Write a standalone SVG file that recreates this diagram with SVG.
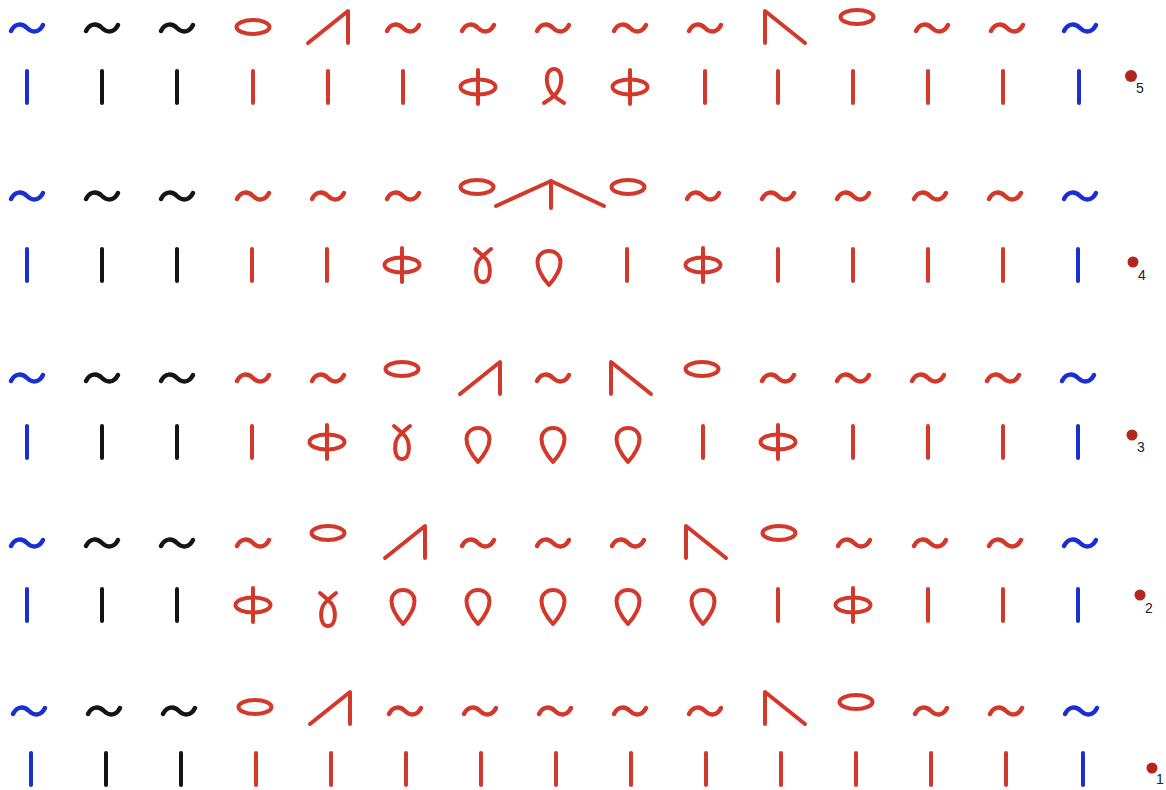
<svg xmlns="http://www.w3.org/2000/svg" width="1166" height="790" viewBox="0 0 1166 790">
<style>
.r{stroke:#d3392b}.k{stroke:#141414}.b{stroke:#1a2fd2}
.s{fill:none;stroke-linecap:round;stroke-linejoin:round}
.t{stroke-width:4.5}.l{stroke-width:4}.o{stroke-width:4}
.dot{fill:#b3261e}
.lbl{font-family:"Liberation Sans",Arial,sans-serif;font-size:14px;fill:#222}
</style>
<defs>
<path id="tl" class="s t" d="M-16,3 C-12,-5 -5,-5 0,0 C5,5 12,5 16,-3"/>
<line id="br" class="s l" x1="0" y1="-16" x2="0" y2="16"/>
<ellipse id="ov" class="s o" cx="0" cy="0" rx="16.5" ry="7"/>
<polyline id="kl" class="s l" points="-20,16 20,-16 20,16"/>
<polyline id="kr" class="s l" points="-20,16 -20,-16 20,16"/>
<g id="ph" class="s l"><ellipse cx="0" cy="0" rx="17.5" ry="7.5"/><line x1="0" y1="-17" x2="0" y2="17"/></g>
<path id="lp" class="s l" d="M-10,17 C-5,14 6,8 7,-4 C8,-13 4,-17 0,-17 C-4,-17 -8,-13 -7,-4 C-6,8 5,14 10,17"/>
<path id="tw" class="s l" d="M-8,-17 Q-3,-13 1,-9 C9,-3 9,16 0,16 C-9,16 -9,-3 -1,-9 Q3,-13 8,-17"/>
<path id="dr" class="s l" d="M0,17 C-8,8 -11.5,0 -11.5,-6 C-11.5,-13 -6,-17 0,-17 C6,-17 11.5,-13 11.5,-6 C11.5,0 8,8 0,17 Z"/>
</defs>
<rect width="1166" height="790" fill="#fff"/>

<g id="row5">
<use id="r5t1" class="b" href="#tl" x="27" y="28"/>
<use id="r5t2" class="k" href="#tl" x="102" y="28"/>
<use id="r5t3" class="k" href="#tl" x="177" y="28"/>
<use id="r5t4" class="r" href="#ov" x="253" y="27"/>
<use id="r5t5" class="r" href="#kl" x="328" y="27"/>
<use id="r5t6" class="r" href="#tl" x="403" y="28"/>
<use id="r5t7" class="r" href="#tl" x="478" y="28"/>
<use id="r5t8" class="r" href="#tl" x="553" y="28"/>
<use id="r5t9" class="r" href="#tl" x="630" y="28"/>
<use id="r5t10" class="r" href="#tl" x="705" y="28"/>
<use id="r5t11" class="r" href="#kr" x="785" y="27"/>
<use id="r5t12" class="r" href="#ov" x="857" y="17"/>
<use id="r5t13" class="r" href="#tl" x="932" y="28"/>
<use id="r5t14" class="r" href="#tl" x="1007" y="28"/>
<use id="r5t15" class="b" href="#tl" x="1080" y="28"/>
<use id="r5b1" class="b" href="#br" x="27" y="87"/>
<use id="r5b2" class="k" href="#br" x="102" y="87"/>
<use id="r5b3" class="k" href="#br" x="177" y="87"/>
<use id="r5b4" class="r" href="#br" x="253" y="87"/>
<use id="r5b5" class="r" href="#br" x="328" y="87"/>
<use id="r5b6" class="r" href="#br" x="403" y="87"/>
<use id="r5b7" class="r" href="#ph" x="478" y="87"/>
<use id="r5b8" class="r" href="#lp" x="554" y="86"/>
<use id="r5b9" class="r" href="#ph" x="630" y="87"/>
<use id="r5b10" class="r" href="#br" x="705" y="87"/>
<use id="r5b11" class="r" href="#br" x="778" y="87"/>
<use id="r5b12" class="r" href="#br" x="853" y="87"/>
<use id="r5b13" class="r" href="#br" x="928" y="87"/>
<use id="r5b14" class="r" href="#br" x="1003" y="87"/>
<use id="r5b15" class="b" href="#br" x="1079" y="87"/>
<circle id="r5dot" class="dot" cx="1131" cy="76" r="6"/>
<text class="lbl" x="1136" y="93">5</text>
</g>

<g id="row4">
<use id="r4t1" class="b" href="#tl" x="27" y="196"/>
<use id="r4t2" class="k" href="#tl" x="102" y="196"/>
<use id="r4t3" class="k" href="#tl" x="177" y="196"/>
<use id="r4t4" class="r" href="#tl" x="253" y="196"/>
<use id="r4t5" class="r" href="#tl" x="328" y="196"/>
<use id="r4t6" class="r" href="#tl" x="403" y="196"/>
<use id="r4t7" class="r" href="#ov" x="477" y="187"/>
<g id="r4t8" class="r"><polyline class="s l" points="496,206 551,181 604,206"/><line class="s l" x1="551" y1="181" x2="551" y2="208"/></g>
<use id="r4t9" class="r" href="#ov" x="628" y="187"/>
<use id="r4t10" class="r" href="#tl" x="703" y="196"/>
<use id="r4t11" class="r" href="#tl" x="778" y="196"/>
<use id="r4t12" class="r" href="#tl" x="853" y="196"/>
<use id="r4t13" class="r" href="#tl" x="930" y="196"/>
<use id="r4t14" class="r" href="#tl" x="1005" y="196"/>
<use id="r4t15" class="b" href="#tl" x="1080" y="196"/>
<use id="r4b1" class="b" href="#br" x="27" y="265"/>
<use id="r4b2" class="k" href="#br" x="102" y="265"/>
<use id="r4b3" class="k" href="#br" x="177" y="265"/>
<use id="r4b4" class="r" href="#br" x="252" y="265"/>
<use id="r4b5" class="r" href="#br" x="327" y="265"/>
<use id="r4b6" class="r" href="#ph" x="402" y="265"/>
<use id="r4b7" class="r" href="#tw" x="483" y="266"/>
<use id="r4b8" class="r" href="#dr" x="549" y="268"/>
<use id="r4b9" class="r" href="#br" x="627" y="265"/>
<use id="r4b10" class="r" href="#ph" x="703" y="265"/>
<use id="r4b11" class="r" href="#br" x="778" y="265"/>
<use id="r4b12" class="r" href="#br" x="853" y="265"/>
<use id="r4b13" class="r" href="#br" x="928" y="265"/>
<use id="r4b14" class="r" href="#br" x="1003" y="265"/>
<use id="r4b15" class="b" href="#br" x="1078" y="265"/>
<circle id="r4dot" class="dot" cx="1133" cy="262" r="5.5"/>
<text class="lbl" x="1138" y="280">4</text>
</g>

<g id="row3">
<use id="r3t1" class="b" href="#tl" x="27" y="378"/>
<use id="r3t2" class="k" href="#tl" x="102" y="378"/>
<use id="r3t3" class="k" href="#tl" x="177" y="378"/>
<use id="r3t4" class="r" href="#tl" x="253" y="378"/>
<use id="r3t5" class="r" href="#tl" x="328" y="378"/>
<use id="r3t6" class="r" href="#ov" x="402" y="369"/>
<use id="r3t7" class="r" href="#kl" x="480" y="378"/>
<use id="r3t8" class="r" href="#tl" x="553" y="378"/>
<use id="r3t9" class="r" href="#kr" x="631" y="378"/>
<use id="r3t10" class="r" href="#ov" x="702" y="369"/>
<use id="r3t11" class="r" href="#tl" x="778" y="378"/>
<use id="r3t12" class="r" href="#tl" x="853" y="378"/>
<use id="r3t13" class="r" href="#tl" x="928" y="378"/>
<use id="r3t14" class="r" href="#tl" x="1003" y="378"/>
<use id="r3t15" class="b" href="#tl" x="1078" y="378"/>
<use id="r3b1" class="b" href="#br" x="27" y="442"/>
<use id="r3b2" class="k" href="#br" x="102" y="442"/>
<use id="r3b3" class="k" href="#br" x="177" y="442"/>
<use id="r3b4" class="r" href="#br" x="252" y="442"/>
<use id="r3b5" class="r" href="#ph" x="327" y="442"/>
<use id="r3b6" class="r" href="#tw" x="402" y="443"/>
<use id="r3b7" class="r" href="#dr" x="478" y="445"/>
<use id="r3b8" class="r" href="#dr" x="553" y="445"/>
<use id="r3b9" class="r" href="#dr" x="628" y="445"/>
<use id="r3b10" class="r" href="#br" x="703" y="442"/>
<use id="r3b11" class="r" href="#ph" x="778" y="442"/>
<use id="r3b12" class="r" href="#br" x="853" y="442"/>
<use id="r3b13" class="r" href="#br" x="928" y="442"/>
<use id="r3b14" class="r" href="#br" x="1003" y="442"/>
<use id="r3b15" class="b" href="#br" x="1078" y="442"/>
<circle id="r3dot" class="dot" cx="1132" cy="435" r="5.5"/>
<text class="lbl" x="1137" y="452">3</text>
</g>

<g id="row2">
<use id="r2t1" class="b" href="#tl" x="27" y="543"/>
<use id="r2t2" class="k" href="#tl" x="102" y="543"/>
<use id="r2t3" class="k" href="#tl" x="177" y="543"/>
<use id="r2t4" class="r" href="#tl" x="253" y="543"/>
<use id="r2t5" class="r" href="#ov" x="328" y="533"/>
<use id="r2t6" class="r" href="#kl" x="405" y="542"/>
<use id="r2t7" class="r" href="#tl" x="478" y="543"/>
<use id="r2t8" class="r" href="#tl" x="553" y="543"/>
<use id="r2t9" class="r" href="#tl" x="628" y="543"/>
<use id="r2t10" class="r" href="#kr" x="706" y="542"/>
<use id="r2t11" class="r" href="#ov" x="779" y="533"/>
<use id="r2t12" class="r" href="#tl" x="854" y="543"/>
<use id="r2t13" class="r" href="#tl" x="930" y="543"/>
<use id="r2t14" class="r" href="#tl" x="1005" y="543"/>
<use id="r2t15" class="b" href="#tl" x="1080" y="543"/>
<use id="r2b1" class="b" href="#br" x="27" y="605"/>
<use id="r2b2" class="k" href="#br" x="102" y="605"/>
<use id="r2b3" class="k" href="#br" x="177" y="605"/>
<use id="r2b4" class="r" href="#ph" x="253" y="605"/>
<use id="r2b5" class="r" href="#tw" x="328" y="610"/>
<use id="r2b6" class="r" href="#dr" x="403" y="607"/>
<use id="r2b7" class="r" href="#dr" x="478" y="607"/>
<use id="r2b8" class="r" href="#dr" x="553" y="607"/>
<use id="r2b9" class="r" href="#dr" x="628" y="607"/>
<use id="r2b10" class="r" href="#dr" x="703" y="607"/>
<use id="r2b11" class="r" href="#br" x="778" y="605"/>
<use id="r2b12" class="r" href="#ph" x="853" y="605"/>
<use id="r2b13" class="r" href="#br" x="928" y="605"/>
<use id="r2b14" class="r" href="#br" x="1003" y="605"/>
<use id="r2b15" class="b" href="#br" x="1078" y="605"/>
<circle id="r2dot" class="dot" cx="1140" cy="595" r="5.5"/>
<text class="lbl" x="1145" y="613">2</text>
</g>

<g id="row1">
<use id="r1t1" class="b" href="#tl" x="29" y="711"/>
<use id="r1t2" class="k" href="#tl" x="104" y="711"/>
<use id="r1t3" class="k" href="#tl" x="179" y="711"/>
<use id="r1t4" class="r" href="#ov" x="255" y="707"/>
<use id="r1t5" class="r" href="#kl" x="330" y="708"/>
<use id="r1t6" class="r" href="#tl" x="405" y="711"/>
<use id="r1t7" class="r" href="#tl" x="480" y="711"/>
<use id="r1t8" class="r" href="#tl" x="555" y="711"/>
<use id="r1t9" class="r" href="#tl" x="630" y="711"/>
<use id="r1t10" class="r" href="#tl" x="705" y="711"/>
<use id="r1t11" class="r" href="#kr" x="785" y="708"/>
<use id="r1t12" class="r" href="#ov" x="856" y="702"/>
<use id="r1t13" class="r" href="#tl" x="931" y="711"/>
<use id="r1t14" class="r" href="#tl" x="1006" y="711"/>
<use id="r1t15" class="b" href="#tl" x="1081" y="711"/>
<use id="r1b1" class="b" href="#br" x="31" y="769"/>
<use id="r1b2" class="k" href="#br" x="106" y="769"/>
<use id="r1b3" class="k" href="#br" x="181" y="769"/>
<use id="r1b4" class="r" href="#br" x="256" y="769"/>
<use id="r1b5" class="r" href="#br" x="331" y="769"/>
<use id="r1b6" class="r" href="#br" x="406" y="769"/>
<use id="r1b7" class="r" href="#br" x="481" y="769"/>
<use id="r1b8" class="r" href="#br" x="556" y="769"/>
<use id="r1b9" class="r" href="#br" x="631" y="769"/>
<use id="r1b10" class="r" href="#br" x="706" y="769"/>
<use id="r1b11" class="r" href="#br" x="781" y="769"/>
<use id="r1b12" class="r" href="#br" x="856" y="769"/>
<use id="r1b13" class="r" href="#br" x="931" y="769"/>
<use id="r1b14" class="r" href="#br" x="1006" y="769"/>
<use id="r1b15" class="b" href="#br" x="1083" y="769"/>
<circle id="r1dot" class="dot" cx="1152" cy="768" r="5.5"/>
<text class="lbl" x="1156" y="784">1</text>
</g>
</svg>
